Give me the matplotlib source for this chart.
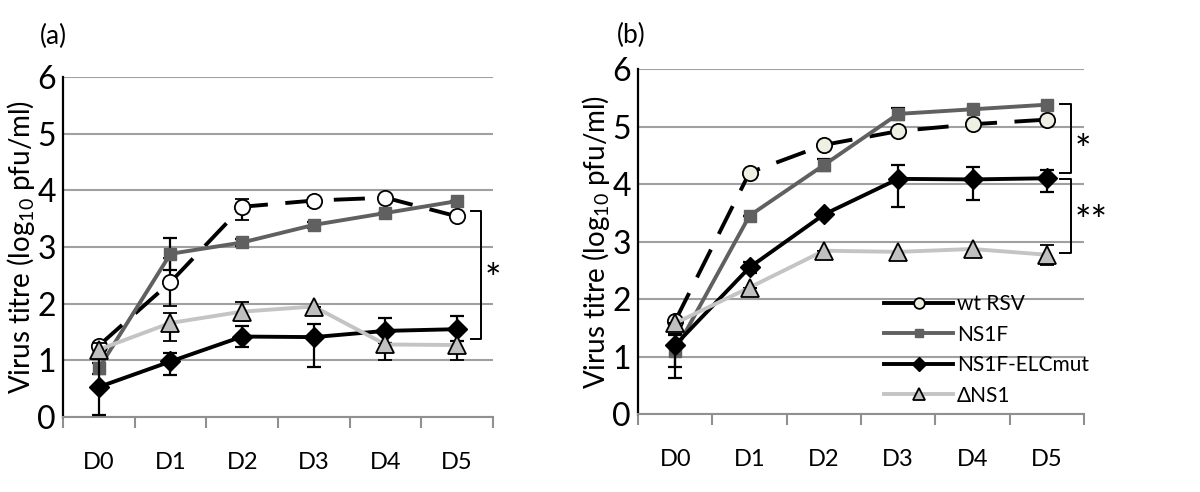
import matplotlib.pyplot as plt
from matplotlib.lines import Line2D

plt.rcParams.update({"font.family": ["Lato", "DejaVu Sans"], "mathtext.fontset": "custom",
                     "mathtext.rm": "Lato", "mathtext.it": "Lato"})

days = ["D0", "D1", "D2", "D3", "D4", "D5"]
series = ["wt RSV", "NS1F", "NS1F-ELCmut", "\u0394NS1"]

# panel (a)
a_wt = [1.26, 2.38, 3.71, 3.82, 3.87, 3.54]
a_wt_lo = [0.0, 0.42, 0.24, 0.1, 0.0, 0.0]
a_wt_hi = [0.0, 0.42, 0.14, 0.05, 0.0, 0.0]
a_ns1f = [0.86, 2.88, 3.08, 3.39, 3.60, 3.81]
a_ns1f_err = [0.1, 0.28, 0.07, 0.05, 0.0, 0.0]
a_elc = [0.53, 0.98, 1.42, 1.41, 1.52, 1.55]
a_elc_lo = [0.49, 0.24, 0.18, 0.52, 0.22, 0.2]
a_elc_hi = [0.49, 0.15, 0.18, 0.23, 0.23, 0.24]
a_dns1 = [1.19, 1.66, 1.86, 1.95, 1.28, 1.27]
a_dns1_lo = [0.12, 0.31, 0.17, 0.0, 0.27, 0.27]
a_dns1_hi = [0.12, 0.17, 0.17, 0.0, 0.27, 0.27]

# panel (b)
b_wt = [1.62, 4.20, 4.68, 4.92, 5.04, 5.12]
b_wt_err = [0.0, 0.0, 0.0, 0.0, 0.0, 0.0]
b_ns1f = [1.10, 3.45, 4.33, 5.22, 5.30, 5.38]
b_ns1f_err = [0.28, 0.0, 0.1, 0.1, 0.0, 0.0]
b_elc = [1.20, 2.55, 3.47, 4.09, 4.08, 4.10]
b_elc_lo = [0.58, 0.1, 0.0, 0.49, 0.36, 0.24]
b_elc_hi = [0.2, 0.1, 0.0, 0.24, 0.22, 0.15]
b_dns1 = [1.58, 2.20, 2.84, 2.82, 2.87, 2.77]
b_dns1_err = [0.0, 0.0, 0.0, 0.0, 0.0, 0.17]

styles = [
    dict(color="black", lw=2.8, ls=(0, (8, 4.5)), marker="o", ms=11, mec="black", mew=1.3),
    dict(color="#606060", lw=2.8, marker="s", ms=9, mec="#606060"),
    dict(color="black", lw=2.8, marker="D", ms=10, mec="black"),
    dict(color="#c4c4c4", lw=2.8, marker="^", ms=13, mfc="#c0c0c0", mec="black", mew=1.3),
]

fig = plt.figure(figsize=(12, 4.92), dpi=100)
axA = fig.add_axes([0.0525, 0.1524, 0.3583, 0.6911])
axB = fig.add_axes([0.5317, 0.1585, 0.3717, 0.7012])

x = list(range(len(days)))


def setup(ax):
    ax.set_xlim(-0.5, 5.5)
    ax.set_ylim(0, 6)
    ax.set_yticks(range(7))
    ax.yaxis.grid(True, color="#a0a0a0", lw=1.5)
    ax.set_axisbelow(True)
    for s in ["top", "right"]:
        ax.spines[s].set_visible(False)
    ax.spines["left"].set_color("black")
    ax.spines["left"].set_linewidth(1.6)
    ax.spines["bottom"].set_color("#909090")
    ax.spines["bottom"].set_linewidth(1.5)
    ax.set_xticks(x)
    ax.set_xticklabels(days, fontsize=17)
    ax.tick_params(axis="x", length=0, pad=25)
    ax.set_xticks([i - 0.5 for i in range(7)], minor=True)
    ax.tick_params(axis="x", which="minor", length=8, width=1.5, color="#909090", direction="out")
    ax.tick_params(axis="y", length=0, pad=5, labelsize=23)
    ax.set_ylabel("Virus titre (log$_{10}$ pfu/ml)", fontsize=20, labelpad=0)


def draw(ax, vals, errs, wt_face):
    for i, (v, (lo, hi)) in enumerate(zip(vals, errs)):
        st = dict(styles[i])
        if i == 0:
            st["mfc"] = wt_face
        ax.errorbar(x, v, yerr=[lo, hi], ecolor="black", elinewidth=1.6, capsize=5,
                    capthick=1.6, zorder=3 + i, **st)


def bracket(ax, y0, y1, xv, xt):
    ax.plot([xt, xv, xv, xt], [y0, y0, y1, y1], color="black", lw=1.4, clip_on=False, zorder=10)


setup(axA)
setup(axB)
draw(axA, [a_wt, a_ns1f, a_elc, a_dns1],
     [(a_wt_lo, a_wt_hi), (a_ns1f_err, a_ns1f_err), (a_elc_lo, a_elc_hi), (a_dns1_lo, a_dns1_hi)],
     "white")
draw(axB, [b_wt, b_ns1f, b_elc, b_dns1],
     [(b_wt_err, b_wt_err), (b_ns1f_err, b_ns1f_err), (b_elc_lo, b_elc_hi), (b_dns1_err, b_dns1_err)],
     "#efefe3")

bracket(axA, 3.63, 1.38, 5.34, 5.2)
axA.text(5.5, 2.4, "*", fontsize=28, ha="center", va="center", clip_on=False)
bracket(axB, 5.39, 4.19, 5.33, 5.18)
axB.text(5.49, 4.55, "*", fontsize=28, ha="center", va="center", clip_on=False)
bracket(axB, 4.09, 2.8, 5.33, 5.18)
axB.text(5.6, 3.33, "**", fontsize=28, ha="center", va="center", clip_on=False)

fig.text(0.033, 0.925, "(a)", fontsize=19, ha="left", va="center")
fig.text(0.514, 0.928, "(b)", fontsize=19, ha="left", va="center")

handles = []
for i, st in enumerate(styles):
    st = dict(st)
    st["ls"] = "-"
    st["ms"] = st["ms"] * 0.7
    if i == 0:
        st["mfc"] = "#efefe3"
    handles.append(Line2D([], [], **st))
axB.legend(handles, series, loc="lower left", bbox_to_anchor=(0.51, -0.03), frameon=False,
           fontsize=15, handlelength=3.3, labelspacing=0.5, handletextpad=0.2)

fig.savefig("out.png", dpi=100)
